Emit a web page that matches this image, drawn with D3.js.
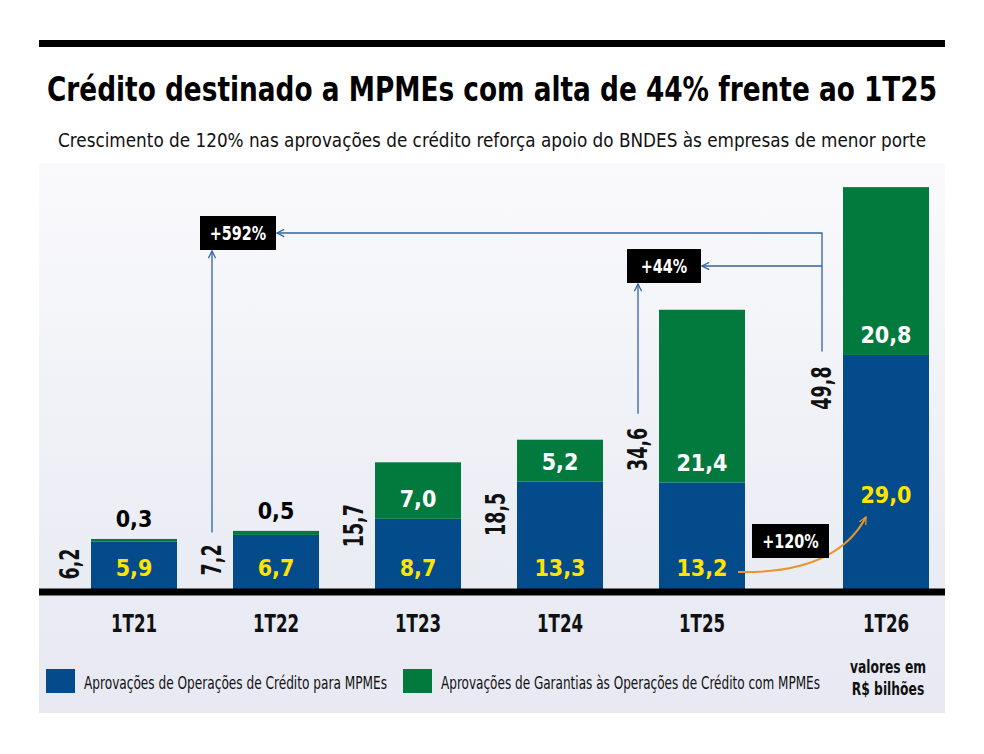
<!DOCTYPE html>
<html>
<head>
<meta charset="utf-8">
<script src="https://cdn.jsdelivr.net/npm/d3@7"></script>
<style>
  body { margin: 0; background: #ffffff; }
  .narrow { font-family: "Liberation Sans Narrow", "DejaVu Sans Condensed", "Roboto Condensed", sans-serif; }
  .heavy { font-family: "DejaVu Sans", sans-serif; font-weight: bold; }
</style>
</head>
<body>
<div id="chart"></div>
<script>
// Data (R$ bilhões)
var categories = ["1T21", "1T22", "1T23", "1T24", "1T25", "1T26"];
var creditoValues = [5.9, 6.7, 8.7, 13.3, 13.2, 29.0];
var garantiaValues = [0.3, 0.5, 7.0, 5.2, 21.4, 20.8];
var totalValues = [6.2, 7.2, 15.7, 18.5, 34.6, 49.8];
var growthLabels = ["+592%", "+44%", "+120%"];
var legendLabels = ["Aprovações de Operações de Crédito para MPMEs",
    "Aprovações de Garantias às Operações de Crédito com MPMEs"];
var unitLabels = ["valores em", "R$ bilhões"];

var titleText = "Crédito destinado a MPMEs com alta de 44% frente ao 1T25";
var subtitleText = "Crescimento de 120% nas aprovações de crédito reforça apoio do BNDES às empresas de menor porte";

// colours
var blue = "#034b8b";
var green = "#037a3d";
var yellow = "#ffe400";
var arrowBlue = "#2f64a1";
var orange = "#e8952c";

// SVG area
var svgWidth = 984;
var svgHeight = 754;

var svg = d3.select("#chart")
    .append("svg")
    .attr("width", svgWidth)
    .attr("height", svgHeight);

var defs = svg.append("defs");

// squeeze text horizontally (no narrow font installed)
function condense(selection, factor) {
    selection.each(function() {
        var len = this.getComputedTextLength();
        d3.select(this)
            .attr("textLength", len * factor)
            .attr("lengthAdjust", "spacingAndGlyphs");
    });
}

// background panel gradient
var grad = defs.append("linearGradient")
    .attr("id", "panelGrad")
    .attr("x1", 0).attr("y1", 0)
    .attr("x2", 0).attr("y2", 1);
grad.append("stop").attr("offset", "0%").attr("stop-color", "#fafafc");
grad.append("stop").attr("offset", "75%").attr("stop-color", "#eaecf4");
grad.append("stop").attr("offset", "100%").attr("stop-color", "#e8e9f3");

// open chevron arrowheads
function addMarker(id, color) {
    defs.append("marker")
        .attr("id", id)
        .attr("viewBox", "0 0 10 10")
        .attr("refX", 9)
        .attr("refY", 5)
        .attr("markerWidth", 9)
        .attr("markerHeight", 9)
        .attr("markerUnits", "userSpaceOnUse")
        .attr("orient", "auto")
        .append("path")
        .attr("d", "M1,1 L9,5 L1,9")
        .attr("fill", "none")
        .attr("stroke", color)
        .attr("stroke-width", 1.4);
}
addMarker("arrowBlue", arrowBlue);
addMarker("arrowOrange", orange);

// panel + top rule
svg.append("rect")
    .attr("x", 39).attr("y", 163)
    .attr("width", 906).attr("height", 550)
    .attr("fill", "url(#panelGrad)");

svg.append("rect")
    .attr("x", 39).attr("y", 40)
    .attr("width", 906).attr("height", 7)
    .attr("fill", "#000");

// title and subtitle
svg.append("text")
    .attr("class", "narrow")
    .attr("x", 47)
    .attr("y", 101)
    .attr("textLength", 890)
    .attr("lengthAdjust", "spacingAndGlyphs")
    .style("font-size", "33px")
    .style("font-weight", "bold")
    .attr("fill", "#000")
    .text(titleText);

svg.append("text")
    .attr("class", "narrow")
    .attr("x", 58)
    .attr("y", 147)
    .attr("textLength", 868)
    .attr("lengthAdjust", "spacingAndGlyphs")
    .style("font-size", "19px")
    .attr("fill", "#111")
    .text(subtitleText);

// Scales
var baseY = 589;
var lastGap = 42; // extra space before the 1T26 bar

var xBand = d3.scaleBand()
    .domain(categories)
    .range([63, 915])
    .paddingInner(0.3944)
    .paddingOuter(0.1972);

function barX(cat) {
    return xBand(cat) + (cat === "1T26" ? lastGap : 0);
}
function barCenter(cat) {
    return barX(cat) + xBand.bandwidth() / 2;
}

var yScale = d3.scaleLinear()
    .domain([0, 50])
    .range([baseY, baseY - 50 * 8.07]);

// stack the two series
var rows = categories.map(function(c, i) {
    return { cat: c, credito: creditoValues[i], garantia: garantiaValues[i], total: totalValues[i] };
});
var stack = d3.stack().keys(["credito", "garantia"]);
var series = stack(rows);
var colors = { credito: blue, garantia: green };

var chartGroup = svg.append("g");

chartGroup.selectAll(".serie")
    .data(series)
    .enter()
    .append("g")
    .attr("fill", d => colors[d.key])
    .selectAll("rect")
    .data(d => d)
    .enter()
    .append("rect")
    .attr("x", d => barX(d.data.cat))
    .attr("width", xBand.bandwidth())
    .attr("y", d => yScale(d[1]))
    .attr("height", d => yScale(d[0]) - yScale(d[1]));

// baseline
svg.append("rect")
    .attr("x", 39).attr("y", baseY - 0.5)
    .attr("width", 906).attr("height", 7)
    .attr("fill", "#000");

var fmt = v => d3.format(".1f")(v).replace(".", ",");

// credit values (yellow), 1T26 raised to leave room for the arrow
chartGroup.selectAll(".credLabel")
    .data(rows)
    .enter()
    .append("text")
    .attr("class", "heavy")
    .attr("x", d => barCenter(d.cat))
    .attr("y", d => d.cat === "1T26" ? baseY - 86 : baseY - 13)
    .attr("text-anchor", "middle")
    .style("font-size", "23px")
    .attr("fill", yellow)
    .text(d => fmt(d.credito))
    .call(condense, 0.9);

// guarantee values: black above tiny bars, white inside the others
chartGroup.selectAll(".garLabel")
    .data(rows)
    .enter()
    .append("text")
    .attr("class", "heavy")
    .attr("x", d => barCenter(d.cat))
    .attr("y", d => d.garantia < 1 ? yScale(d.total) - 12 : yScale(d.credito) - 11.5)
    .attr("text-anchor", "middle")
    .style("font-size", "23px")
    .attr("fill", d => d.garantia < 1 ? "#000" : "#fff")
    .text(d => fmt(d.garantia))
    .call(condense, 0.9);

// totals, rotated, left of each bar
var totalLabels = chartGroup.selectAll(".totLabel")
    .data(rows)
    .enter()
    .append("text")
    .attr("class", "narrow")
    .attr("text-anchor", "middle")
    .attr("transform", d => `translate(${barX(d.cat) - 12}, ${yScale(d.total / 2)}) rotate(-90)`)
    .style("font-size", "26px")
    .style("font-weight", "bold")
    .attr("fill", "#111")
    .text(d => fmt(d.total))
    .call(condense, 0.75);

// top end of each rotated total label (used by the arrows)
var labelTop = {};
totalLabels.each(function(d) {
    labelTop[d.cat] = yScale(d.total / 2) - (+d3.select(this).attr("textLength")) / 2;
});
function labelMid(cat) {
    return barX(cat) - 12 - 9;
}

// category labels
svg.selectAll(".catLabel")
    .data(categories)
    .enter()
    .append("text")
    .attr("class", "narrow")
    .attr("x", d => barCenter(d))
    .attr("y", 632)
    .attr("text-anchor", "middle")
    .style("font-size", "25px")
    .style("font-weight", "bold")
    .attr("fill", "#111")
    .text(d => d)
    .call(condense, 0.74);

// annotation boxes
var boxH = 34;
var box592 = { x: labelMid("1T22") - 12, y: 216, w: 76 };
var box44 = { x: labelMid("1T25") - 11, y: 249, w: 74 };
var box120 = { x: (barX("1T25") + xBand.bandwidth() + barX("1T26")) / 2 - 42, y: baseY - 65, w: 77 };

var annGroup = svg.append("g");

// blue arrows
var upX = labelMid("1T26");
annGroup.append("path")
    .attr("d", `M${upX},${labelTop["1T26"] - 15} V${box592.y + boxH / 2} H${box592.x + box592.w + 1}`)
    .attr("fill", "none")
    .attr("stroke", arrowBlue)
    .attr("stroke-width", 1.3)
    .attr("marker-end", "url(#arrowBlue)");

annGroup.append("path")
    .attr("d", `M${upX},${box44.y + boxH / 2} H${box44.x + box44.w + 1}`)
    .attr("fill", "none")
    .attr("stroke", arrowBlue)
    .attr("stroke-width", 1.3)
    .attr("marker-end", "url(#arrowBlue)");

annGroup.append("path")
    .attr("d", `M${labelMid("1T22")},${labelTop["1T22"] - 12} V${box592.y + boxH + 1}`)
    .attr("fill", "none")
    .attr("stroke", arrowBlue)
    .attr("stroke-width", 1.3)
    .attr("marker-end", "url(#arrowBlue)");

annGroup.append("path")
    .attr("d", `M${labelMid("1T25")},${labelTop["1T25"] - 14} V${box44.y + boxH + 1}`)
    .attr("fill", "none")
    .attr("stroke", arrowBlue)
    .attr("stroke-width", 1.3)
    .attr("marker-end", "url(#arrowBlue)");

// orange curved arrow from 13,2 to 29,0
var ox0 = barCenter("1T25") + 36;
var oy0 = baseY - 17;
var ox1 = barCenter("1T26") - 20;
var oy1 = baseY - 72;
annGroup.append("path")
    .attr("d", `M${ox0},${oy0} Q${ox1 - 30},${oy0 + 2} ${ox1},${oy1}`)
    .attr("fill", "none")
    .attr("stroke", orange)
    .attr("stroke-width", 2)
    .attr("marker-end", "url(#arrowOrange)");

// black boxes with growth labels
[box592, box44, box120].forEach(function(b, i) {
    annGroup.append("rect")
        .attr("x", b.x).attr("y", b.y)
        .attr("width", b.w).attr("height", boxH)
        .attr("fill", "#000");
    annGroup.append("text")
        .attr("class", "narrow")
        .attr("x", b.x + b.w / 2)
        .attr("y", b.y + boxH / 2 + 7)
        .attr("text-anchor", "middle")
        .style("font-size", "20px")
        .style("font-weight", "bold")
        .attr("fill", "#fff")
        .text(growthLabels[i])
        .call(condense, 0.8);
});

// legend
var legendGroup = svg.append("g");
var legendItems = [
    { color: blue, label: legendLabels[0], x: 46, len: 303 },
    { color: green, label: legendLabels[1], x: 403, len: 379 }
];
legendItems.forEach(function(item) {
    legendGroup.append("rect")
        .attr("x", item.x).attr("y", 669)
        .attr("width", 29).attr("height", 24)
        .attr("fill", item.color);
    legendGroup.append("text")
        .attr("class", "narrow")
        .attr("x", item.x + 38)
        .attr("y", 689)
        .attr("textLength", item.len)
        .attr("lengthAdjust", "spacingAndGlyphs")
        .style("font-size", "18px")
        .attr("fill", "#111")
        .text(item.label);
});

legendGroup.selectAll(".unit")
    .data(unitLabels)
    .enter()
    .append("text")
    .attr("class", "narrow")
    .attr("x", 888)
    .attr("y", (d, i) => 673 + i * 22)
    .attr("text-anchor", "middle")
    .style("font-size", "18px")
    .style("font-weight", "bold")
    .attr("fill", "#111")
    .text(d => d)
    .call(condense, 0.76);
</script>
</body>
</html>
